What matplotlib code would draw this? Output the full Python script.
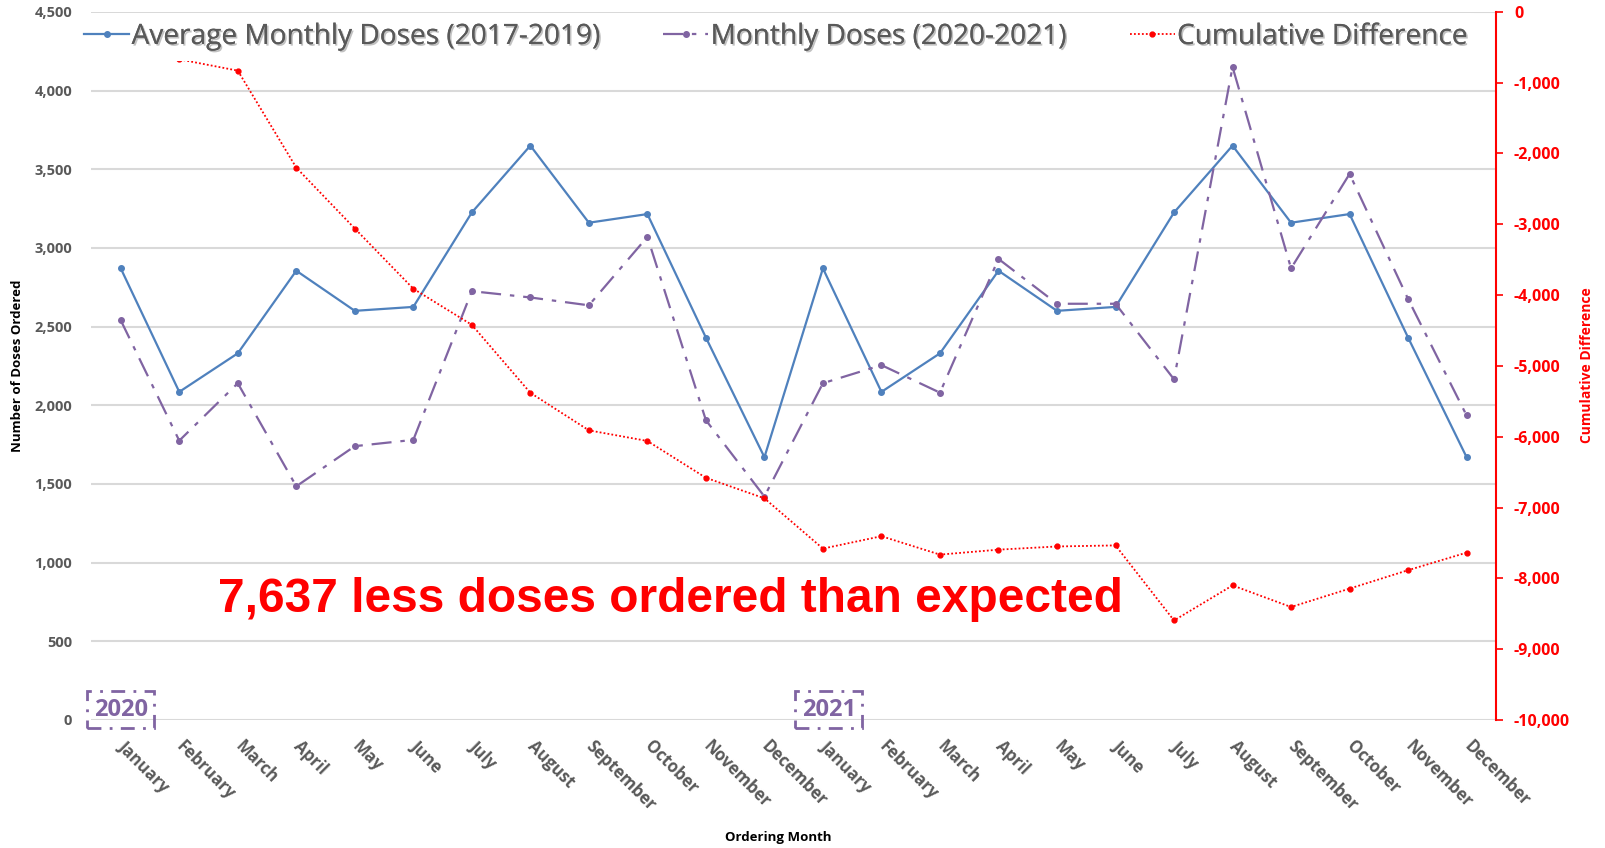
import matplotlib
matplotlib.use('Agg')
import matplotlib.pyplot as plt
import matplotlib.patheffects as pe

months = ['January', 'February', 'March', 'April', 'May', 'June', 'July',
          'August', 'September', 'October', 'November', 'December'] * 2

avg_doses = [2870, 2085, 2330, 2855, 2600, 2625, 3225, 3650, 3160, 3215, 2430, 1670,
             2870, 2085, 2330, 2855, 2600, 2625, 3225, 3650, 3160, 3215, 2430, 1670]

doses_2020_2021 = [2540, 1775, 2140, 1485, 1740, 1780, 2725, 2685, 2635, 3070, 1905, 1420,
                   2140, 2255, 2080, 2930, 2645, 2645, 2165, 4150, 2870, 3470, 2675, 1935]

cum_diff = [-330, -670, -830, -2200, -3060, -3910, -4420, -5380, -5910, -6060, -6580, -6870,
            -7580, -7405, -7665, -7595, -7550, -7535, -8595, -8100, -8405, -8145, -7885, -7637]

blue = '#4f81bd'
purple = '#8064a2'
red = '#ff0000'
gray = '#595959'
font = 'Open Sans'

fig = plt.figure(figsize=(16.05, 8.48), dpi=100)
ax = fig.add_axes([0.057, 0.151, 0.875, 0.835])
ax2 = ax.twinx()

x = list(range(len(months)))

l1, = ax.plot(x, avg_doses, color=blue, lw=1.6, marker='o', ms=4,
              label='Average Monthly Doses (2017-2019)', zorder=3)
l2, = ax.plot(x, doses_2020_2021, color=purple, lw=1.6, marker='o', ms=4,
              ls=(0, (9, 4, 2, 4)), label='Monthly Doses (2020-2021)', zorder=3)
l3, = ax2.plot(x, cum_diff, color=red, lw=1.3, marker='o', ms=3.5,
               ls=(0, (1, 1.2)), label='Cumulative Difference', zorder=3)

ax.set_xlim(-0.5, 23.5)
ax.set_ylim(0, 4500)
ax2.set_ylim(-10000, 0)

ax.set_yticks(range(0, 4501, 500))
ax.set_yticklabels([f'{v:,}' for v in range(0, 4501, 500)])
ax.grid(axis='y', color='#d9d9d9', lw=1.5, zorder=0)
ax.set_axisbelow(True)
for s in ax.spines.values():
    s.set_visible(False)
ax.tick_params(axis='y', length=0, pad=14, labelsize=10.5, labelcolor=gray)

ax.set_xticks(x)
ax.set_xticklabels(months, rotation=-45, ha='left', va='center',
                   rotation_mode='anchor', fontsize=12, color=gray,
                   fontweight='bold', family=font)
ax.tick_params(axis='x', length=0, pad=17)
for t in ax.get_yticklabels():
    t.set_fontweight('bold')
    t.set_family(font)

for s in ['top', 'left', 'bottom']:
    ax2.spines[s].set_visible(False)
ax2.spines['right'].set_color(red)
ax2.spines['right'].set_linewidth(1.5)
ax2.set_yticks(range(-10000, 1, 1000))
ax2.set_yticklabels([f'{v:,}' for v in range(-10000, 1, 1000)])
ax2.tick_params(axis='y', colors=red, length=5, width=1.2, pad=8, labelsize=11.5)
for t in ax2.get_yticklabels():
    t.set_fontweight('bold')
    t.set_family(font)

fig.text(0.011, 0.569, 'Number of Doses Ordered', rotation=90, ha='center', va='center',
         fontsize=9.5, fontweight='bold', family=font)
fig.text(0.989, 0.569, 'Cumulative Difference', rotation=90, ha='center', va='center',
         fontsize=10, fontweight='bold', color=red, family=font)
fig.text(0.485, 0.012, 'Ordering Month', ha='center', va='center',
         fontsize=9.5, fontweight='bold', family=font)

ax.text(9.4, 763, '7,637 less doses ordered than expected', ha='center', va='center',
        fontsize=34.5, fontweight='bold', color=red, family='Liberation Sans', zorder=5)

for xi, yr in [(0, '2020'), (12.1, '2021')]:
    ax.text(xi, 64, yr, ha='center', va='center', fontsize=17, fontweight='bold',
            color=purple, family=font, zorder=5,
            bbox=dict(boxstyle='square,pad=0.28', fc='none', ec=purple, lw=2,
                      ls=(0, (5, 3, 1, 3))))

leg = ax2.legend(handles=[l1, l2, l3], loc='upper left', bbox_to_anchor=(-0.022, 1.018),
                 ncol=3, frameon=True, facecolor='white', edgecolor='none', framealpha=1,
                 handlelength=1.6, handletextpad=0.08, columnspacing=2.3,
                 borderpad=0.35, prop={'family': font, 'size': 20.2})
leg.set_zorder(10)
for t in leg.get_texts():
    t.set_color(gray)
    t.set_path_effects([pe.withSimplePatchShadow(offset=(1.2, -1.2), shadow_rgbFace='#999999', alpha=0.6), pe.Normal()])

fig.savefig('out.png', dpi=100)
